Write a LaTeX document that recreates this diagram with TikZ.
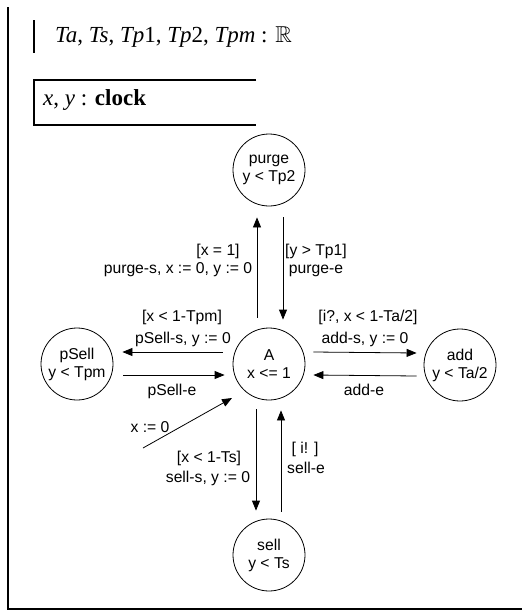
\documentclass[tikz,border=0pt]{standalone}
\usepackage{amssymb}
\usepackage{fontspec}
\setmainfont{Liberation Serif}
\newfontfamily\diagfont{Liberation Sans}
\usetikzlibrary{arrows.meta}
\begin{document}
\begin{tikzpicture}[x=1pt,y=-1pt,
  frame/.style={line width=1.6pt},
  state/.style={draw,circle,line width=0.8pt,minimum size=72pt,inner sep=0pt,align=center,
    font=\diagfont\fontsize{15.7}{18}\selectfont},
  lbl/.style={anchor=base,inner sep=0pt,font=\diagfont\fontsize{15.7}{18}\selectfont},
  arr/.style={line width=0.8pt,-{Triangle[length=10pt,width=8pt]}},
  toptext/.style={anchor=base west,inner sep=0pt,font=\fontsize{23}{27}\selectfont}]
\useasboundingbox (0,0) rectangle (522,613);
% frame
\draw[frame] (8,7) -- (8,609) -- (522,609);
\draw[frame] (34,20) -- (34,53);
\draw[frame] (256,80) -- (34,80) -- (34,125) -- (256,125);
\node[toptext] (params) at (55,42) {\textit{Ta}, \textit{Ts}, \textit{Tp}1, \textit{Tp}2, \textit{Tpm} : $\mathbb{R}$};
\node[toptext] (clocks) at (43,105) {\textit{x}, \textit{y} : \textbf{clock}};
% states
\node[state] (purge) at (269,170) {purge\\y < Tp2};
\node[state] (A) at (269,364) {A\\x <= 1};
\node[state] (pSell) at (77,364) {pSell\\y < Tpm};
\node[state] (add) at (460,365) {add\\y < Ta/2};
\node[state] (sell) at (269,555) {sell\\y < Ts};
% arrows
\draw[arr] ([xshift=-12pt,yshift=10pt]A.north) -- ([xshift=-12pt,yshift=-11pt]purge.south);
\draw[arr] ([xshift=14pt,yshift=-11pt]purge.south) -- ([xshift=14pt,yshift=8pt]A.north);
\draw[arr] ([xshift=-10pt,yshift=12pt]A.west) -- ([xshift=9pt,yshift=12pt]pSell.east);
\draw[arr] ([xshift=10pt,yshift=-11pt]pSell.east) -- ([xshift=-8pt,yshift=-11pt]A.west);
\draw[arr] ([xshift=8pt,yshift=12pt]A.east) -- ([xshift=-7pt,yshift=12pt]add.west);
\draw[arr] ([xshift=-7pt,yshift=-11pt]add.west) -- ([xshift=8pt,yshift=-11pt]A.east);
\draw[arr] ([xshift=-13pt,yshift=-9pt]A.south) -- ([xshift=-13pt,yshift=8pt]sell.north);
\draw[arr] ([xshift=12pt,yshift=7pt]sell.north) -- ([xshift=12pt,yshift=-10pt]A.south);
\coordinate (init) at (143,448);
\coordinate (initend) at (232,398);
\draw[arr] (init) -- (initend);
% labels
\node[lbl] (l1) at (218,255) {[x = 1]};
\node[lbl] (l2) at (178,273) {purge-s, x := 0, y := 0};
\node[lbl] (l3) at (316,255) {[y > Tp1]};
\node[lbl] (l4) at (316,273) {purge-e};
\node[lbl] (l5) at (182,321) {[x < 1-Tpm]};
\node[lbl] (l6) at (183,343) {pSell-s, y := 0};
\node[lbl] (l7) at (172,395) {pSell-e};
\node[lbl] (l8) at (368,321) {[i?, x < 1-Ta/2]};
\node[lbl] (l9) at (365,343) {add-s, y := 0};
\node[lbl] (l10) at (364,395) {add-e};
\node[lbl] (l11) at (150,432) {x := 0};
\node[lbl] (l12) at (209,462) {[x < 1-Ts]};
\node[lbl] (l13) at (208,482) {sell-s, y := 0};
\node[lbl] (l14) at (305,453) {[ i! ]};
\node[lbl] (l15) at (306,473) {sell-e};
\end{tikzpicture}
\end{document}
